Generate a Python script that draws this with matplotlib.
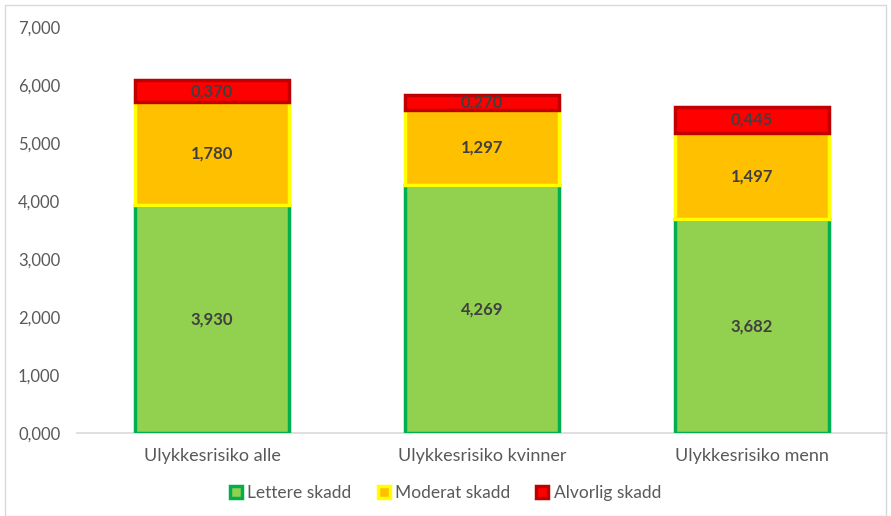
import matplotlib.pyplot as plt
from matplotlib.patches import Rectangle

plt.rcParams['font.family'] = ['Lato', 'DejaVu Sans']

categories = ['Ulykkesrisiko alle', 'Ulykkesrisiko kvinner', 'Ulykkesrisiko menn']
lettere = [3.930, 4.269, 3.682]
moderat = [1.780, 1.297, 1.497]
alvorlig = [0.370, 0.270, 0.445]
series_names = ['Lettere skadd', 'Moderat skadd', 'Alvorlig skadd']


def fmt(v):
    return f"{v:,.3f}".replace('.', ',')


fig = plt.figure(figsize=(8.91, 5.16), dpi=100)
ax = fig.add_axes([77 / 891, 1 - 433 / 516, 810 / 891, 406 / 516])

x = range(len(categories))
w = 0.57
b1 = ax.bar(x, lettere, w, color='#92D050', edgecolor='#00B050', linewidth=2.5,
            label=series_names[0], zorder=3)
b2 = ax.bar(x, moderat, w, bottom=lettere, color='#FFC000', edgecolor='#FFFF00',
            linewidth=2.5, label=series_names[1], zorder=3)
bottoms = [a + b for a, b in zip(lettere, moderat)]
b3 = ax.bar(x, alvorlig, w, bottom=bottoms, color='#FF0000', edgecolor='#C00000',
            linewidth=2.5, label=series_names[2], zorder=3)

for bars, vals in [(b1, lettere), (b2, moderat), (b3, alvorlig)]:
    ax.bar_label(bars, labels=[fmt(v) for v in vals], label_type='center',
                 fontsize=12, fontweight='bold', color='#404040', zorder=4)

ax.set_xlim(-0.5, 2.5)
ax.set_ylim(0, 7)
ax.set_yticks(range(8))
ax.set_yticklabels([fmt(v) for v in range(8)])
ax.set_xticks(list(x))
ax.set_xticklabels(categories)
ax.tick_params(length=0, labelcolor='#595959')
ax.tick_params(axis='y', pad=12, labelsize=12)
ax.tick_params(axis='x', pad=11, labelsize=13)
for s in ['top', 'right', 'left']:
    ax.spines[s].set_visible(False)
ax.spines['bottom'].set_color('#D9D9D9')
ax.spines['bottom'].set_linewidth(1.2)

leg = fig.legend(loc='center', bbox_to_anchor=(0.5, 1 - 493 / 516), ncol=3,
                 frameon=False, fontsize=12.5, handlelength=0.7, handleheight=0.7,
                 columnspacing=1.5, handletextpad=0.3)
for t in leg.get_texts():
    t.set_color('#595959')

fig.patches.append(Rectangle((5 / 891, 0), 881 / 891, 1 - 5 / 516,
                             transform=fig.transFigure, fill=False,
                             edgecolor='#D9D9D9', linewidth=1))

fig.savefig('out.png', dpi=100)
